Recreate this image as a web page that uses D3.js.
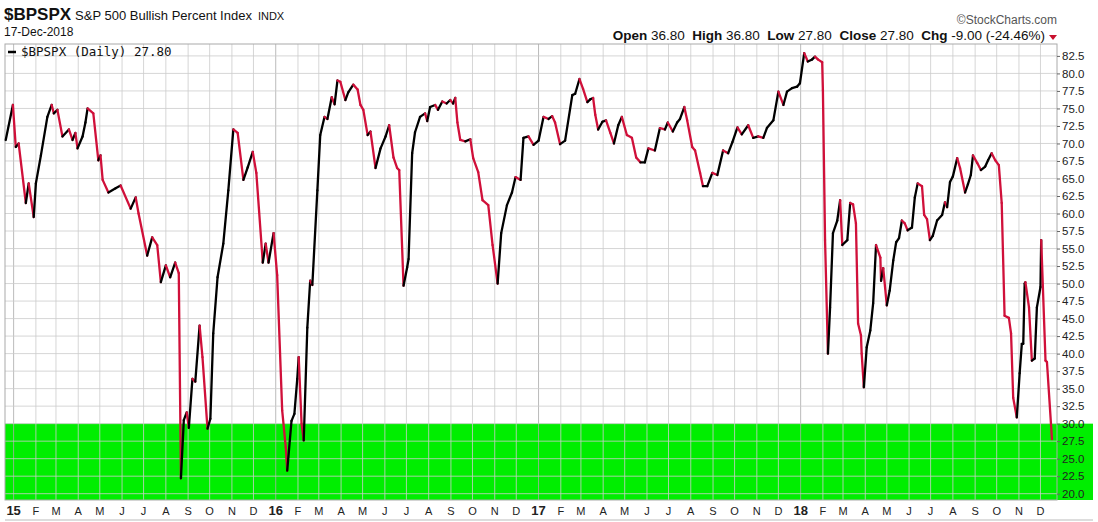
<!DOCTYPE html>
<html><head><meta charset="utf-8">
<script src="https://cdn.jsdelivr.net/npm/d3@7/dist/d3.min.js"></script>
<style>body{margin:0;background:#fff;font-family:Arial,"Liberation Sans",sans-serif}</style>
</head><body><svg id="c" width="1098" height="522"></svg>
<script>
// days since 2015-01-01
const dayOffsets=[-11,-1,3,7,17,21,28,31,38,47,53,56,61,68,77,82,86,89,96,100,103,111,118,121,124,132,142,149,163,170,174,186,193,200,205,212,218,225,230,233,237,241,244,249,253,259,263,270,274,278,284,292,299,306,312,320,326,333,338,347,351,355,362,367,374,379,381,387,391,395,397,401,404,409,413,416,423,427,433,437,443,447,451,455,462,466,473,479,483,487,493,497,504,511,518,523,529,534,537,543,548,550,555,559,566,573,576,580,587,591,597,603,608,612,615,618,622,629,636,640,647,653,661,667,674,679,687,694,699,706,710,717,724,731,738,745,750,754,761,768,778,782,788,793,799,803,807,810,814,820,825,831,836,842,847,854,861,867,873,879,884,893,900,907,911,918,924,928,934,938,945,949,956,960,966,973,980,988,995,1001,1008,1014,1023,1030,1037,1044,1049,1058,1065,1072,1077,1084,1091,1095,1101,1106,1112,1116,1120,1126,1127,1130,1134,1137,1141,1147,1151,1154,1161,1165,1169,1173,1176,1180,1181,1184,1188,1193,1197,1201,1207,1208,1211,1216,1220,1225,1229,1233,1237,1241,1245,1251,1255,1259,1265,1268,1272,1276,1280,1286,1293,1297,1300,1304,1308,1314,1318,1325,1329,1333,1336,1342,1347,1353,1357,1362,1367,1372,1376,1380,1386,1389,1392,1397,1401,1404,1406,1408,1409,1414,1418,1422,1425,1430,1431,1437,1439,1446];
const values=[70.5,75.5,69.5,70,61.5,64.3,59.5,64.3,68.3,73.8,75.5,74.3,74.8,71,72,70.5,71.5,69.3,71,73,75,74.3,67.6,68.3,64.8,63,63.6,64,60.7,62.3,60,54,56.6,55.5,50.2,52.6,50.9,53,51.5,22.2,30.5,31.6,29.4,36.4,36,44,39.5,29.3,30.7,42.9,50.9,55.7,63.3,72,71.5,64.8,66.6,68.8,65.8,53,55.7,53,57.2,51.2,31.9,26.6,23.3,30.4,31.4,36.4,39.5,30,27.6,43.7,50.4,49.8,63.3,71.2,73.8,73.5,76.6,75.6,79,78.8,76.2,77.3,78.4,77.7,75.5,74.8,71.2,71.7,66.5,69.3,71,72.6,68,66.5,66.2,49.7,52.3,53.5,68.6,71.6,73.8,74.3,73.2,75.2,75.5,74.8,76,75.7,76.2,75.7,76.5,73,70.5,70.3,70.6,67.9,65.9,61.9,61.2,55.5,50,57.2,61.2,63,65.2,64.8,70.8,71,69.8,70.4,73.8,73.5,73.9,73,69.9,70.4,76.9,77.1,79.2,77.8,75.9,76.3,76.5,74.1,72,73.1,73.3,71.5,70,72.6,73.8,71.2,70.8,68,67.3,67.3,69.3,69,72.2,72,73,71.7,73,73.5,75.2,73.3,69.5,69,65.8,63.9,63.9,65.8,65.5,69,68.6,70.2,72.3,71.3,72.6,70.8,71,70.8,72.2,73.3,77.4,75.5,77.4,77.9,78.1,78.6,82.9,81.7,82,82.4,82,81.6,77.6,56.2,40,46.6,57.2,59,61.9,55.5,56.2,61.5,61.3,58.6,44.3,42.6,40,35.2,40.9,43.3,47.2,55.5,53.7,50.4,52.2,46.9,49,53.3,55.9,56.5,59,58.6,57.6,58,62.3,64.3,63.9,59.8,59.2,56.2,56.8,59,59.8,61.6,60.9,64.5,65.3,67.9,66.5,63,64.2,65.5,68.3,67.2,66.2,66.7,67.6,68.6,67.6,66.9,61.5,45.4,45.1,42.9,33.7,30.9,37.2,41.4,41.4,50,50.2,46.6,39,39.3,46.6,49.5,56.2,39,38.8,27.8];
const yTicks=[20,22.5,25,27.5,30,32.5,35,37.5,40,42.5,45,47.5,50,52.5,55,57.5,60,62.5,65,67.5,70,72.5,75,77.5,80,82.5];
const monthLetters=["J","F","M","A","M","J","J","A","S","O","N","D"];
const threshold=30;

const base=new Date(2015,0,1);
const data=dayOffsets.map((d,i)=>({date:d3.timeDay.offset(base,d),v:values[i]}));
const svg=d3.select("#c");
const L=5,R=1057,T=44,B=500;
const x=d3.scaleTime().domain([d3.timeDay.offset(base,-12),d3.timeDay.offset(base,1453)]).range([L,R]);
const y=d3.scaleLinear().domain([19.1,84.2]).range([B,T]);

svg.append("rect").attr("x",L).attr("y",y(threshold)).attr("width",1093-L).attr("height",B-y(threshold)).attr("fill","#00ee00");
const months=d3.timeMonth.range(new Date(2015,0,1),new Date(2018,11,2));
svg.append("g").selectAll("line").data(months).join("line")
 .attr("x1",d=>x(d)).attr("x2",d=>x(d)).attr("y1",T).attr("y2",B)
 .attr("stroke",d=>d.getMonth()===0?"#aaa":"#ccc").attr("stroke-opacity",0.8).attr("stroke-width",1);
svg.append("g").selectAll("line").data(yTicks).join("line")
 .attr("x1",L).attr("x2",R).attr("y1",d=>y(d)).attr("y2",d=>y(d))
 .attr("stroke","#ccc").attr("stroke-opacity",0.8);
svg.append("rect").attr("x",L).attr("y",T).attr("width",R-L).attr("height",B-T).attr("fill","none").attr("stroke","#aaa");
svg.append("line").attr("x1",L).attr("x2",1093).attr("y1",520).attr("y2",520).attr("stroke","#bbb");

const segs=[];
for(let i=1;i<data.length;i++)segs.push([data[i-1],data[i]]);
svg.append("g").selectAll("line").data(segs).join("line")
 .attr("x1",d=>x(d[0].date)).attr("y1",d=>y(d[0].v)).attr("x2",d=>x(d[1].date)).attr("y2",d=>y(d[1].v))
 .attr("stroke",d=>d[1].v>=d[0].v?"#000":"#d0103a").attr("stroke-width",2.3).attr("stroke-linecap","round");

const ya=svg.append("g").attr("transform",`translate(${R},0)`).call(d3.axisRight(y).tickValues(yTicks).tickSize(3).tickFormat(d3.format(".1f")));
ya.select(".domain").remove();
ya.selectAll("text").attr("font-size",11.5).attr("fill","#222").attr("font-family","Arial,'Liberation Sans',sans-serif").attr("x",5);
ya.selectAll("line").attr("stroke","#666");

svg.append("g").selectAll("text").data(months).join("text")
 .attr("x",d=>x(d)).attr("y",515).attr("text-anchor","middle")
 .attr("font-size",d=>d.getMonth()===0?13:11).attr("font-weight",d=>d.getMonth()===0?"bold":"normal").attr("fill","#222")
 .text(d=>d.getMonth()===0?String(d.getFullYear()).slice(2):monthLetters[d.getMonth()]);

const h=svg.append("text").attr("x",4).attr("y",20).attr("fill","#111");
h.append("tspan").attr("font-weight","bold").attr("font-size",17).text("$BPSPX");
h.append("tspan").attr("font-size",13).attr("dx",4).text("S&P 500 Bullish Percent Index");
h.append("tspan").attr("font-size",11).attr("dx",6).text("INDX");
svg.append("text").attr("x",4).attr("y",36).attr("font-size",12).attr("fill","#111").text("17-Dec-2018");
svg.append("text").attr("x",1057).attr("y",24).attr("text-anchor","end").attr("font-size",12).attr("fill","#555").text("©StockCharts.com");
const o=svg.append("text").attr("x",1045).attr("y",40).attr("text-anchor","end").attr("font-size",13.5).attr("fill","#111");
[["Open"," 36.80  "],["High"," 36.80  "],["Low"," 27.80  "],["Close"," 27.80  "],["Chg"," -9.00 (-24.46%)"]].forEach(([a,b])=>{
 o.append("tspan").attr("font-weight","bold").text(a);o.append("tspan").style("white-space","pre").text(b);});
svg.append("path").attr("d","M1049,35 L1057,35 L1053,40 Z").attr("fill","#c8102e");
svg.append("line").attr("x1",8).attr("x2",16).attr("y1",52).attr("y2",52).attr("stroke","#000").attr("stroke-width",2.5);
svg.append("text").attr("x",21).attr("y",56).attr("font-size",12.5).attr("font-family","'DejaVu Sans Mono',monospace").attr("fill","#111").text("$BPSPX (Daily) 27.80");
</script></body></html>
